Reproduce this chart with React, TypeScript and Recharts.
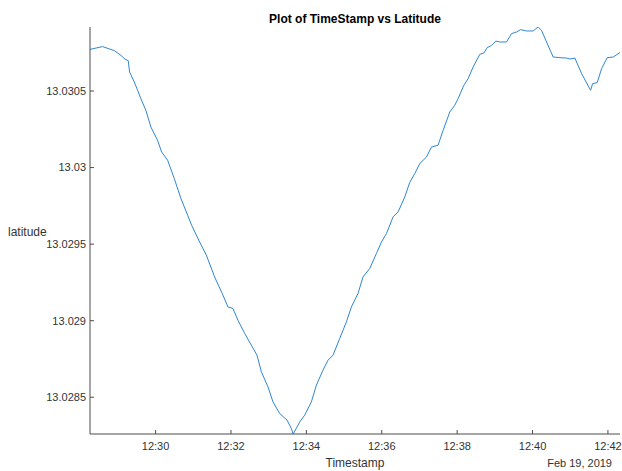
import React from "react";
import { Line, LineChart, XAxis, YAxis } from "recharts";

// minutes after 12:00 on Feb 19, 2019
const times = [
  28.26, 28.593, 28.904, 29.079, 29.185, 29.275, 29.31, 29.435, 29.522, 29.61,
  29.742, 29.875, 30.053, 30.159, 30.319, 30.496, 30.672, 30.85, 30.956, 31.168,
  31.346, 31.566, 31.787, 31.919, 32.052, 32.185, 32.363, 32.54, 32.689, 32.806,
  32.981, 33.114, 33.292, 33.486, 33.602, 33.65, 33.828, 33.955, 34.133, 34.266,
  34.441, 34.574, 34.707, 34.885, 35.062, 35.195, 35.37, 35.503, 35.681, 35.859,
  35.992, 36.125, 36.3, 36.433, 36.611, 36.743, 36.876, 37.008, 37.186, 37.319,
  37.494, 37.627, 37.805, 37.937, 38.025, 38.177, 38.291, 38.424, 38.602, 38.708,
  38.796, 38.912, 39.026, 39.132, 39.31, 39.443, 39.576, 39.682, 39.841, 40.016,
  40.149, 40.239, 40.372, 40.547, 40.725, 40.903, 40.99, 41.123, 41.301, 41.54,
  41.593, 41.715, 41.832, 41.981, 42.14, 42.318,
];

const latitudes = [
  13.030772, 13.03079, 13.030764, 13.030733, 13.030709, 13.030698, 13.030624, 13.030559, 13.030505, 13.03045,
  13.030374, 13.030265, 13.030178, 13.030102, 13.030048, 13.029928, 13.029798, 13.029689, 13.029623, 13.029514,
  13.029428, 13.029286, 13.029167, 13.02909, 13.02908, 13.029003, 13.028917, 13.02884, 13.028775, 13.028666,
  13.028568, 13.02847, 13.028394, 13.028351, 13.028296, 13.02826, 13.02834, 13.028383, 13.02847, 13.028579,
  13.028677, 13.028742, 13.028775, 13.028884, 13.028992, 13.02909, 13.029178, 13.029286, 13.029341, 13.029439,
  13.029514, 13.029569, 13.029678, 13.02971, 13.029808, 13.029904, 13.029961, 13.030026, 13.030069, 13.030134,
  13.030146, 13.030243, 13.030363, 13.030407, 13.03045, 13.030537, 13.030581, 13.030657, 13.03074, 13.030748,
  13.030783, 13.030798, 13.030826, 13.03082, 13.03082, 13.030875, 13.030885, 13.030901, 13.030892, 13.030892,
  13.030918, 13.030896, 13.03082, 13.030722, 13.030718, 13.030715, 13.030709, 13.030715, 13.030614, 13.030505,
  13.030548, 13.030555, 13.030646, 13.030718, 13.030722, 13.030751,
];

const timeTicks = [30, 32, 34, 36, 38, 40, 42];
const latTicks = [13.0285, 13.029, 13.0295, 13.03, 13.0305];

const data = times.map((t, i) => ({ t, lat: latitudes[i] }));

const font = "'Liberation Sans', Arial, Helvetica, sans-serif";
const textColor = "#333";
const axisColor = "#4d4d4d";
const tickStyle = { fontSize: 11, fill: textColor, fontFamily: font };

export default function App() {
  return (
    <div
      style={{
        position: "absolute",
        left: 0,
        top: 0,
        width: 622,
        height: 471,
        background: "#fff",
        fontFamily: font,
        color: textColor,
      }}
    >
      <div
        style={{
          position: "absolute",
          left: 90,
          width: 530,
          top: 10,
          height: 18,
          lineHeight: "18px",
          textAlign: "center",
          fontSize: 12,
          fontWeight: "bold",
          color: "#000",
        }}
      >
        Plot of TimeStamp vs Latitude
      </div>
      <LineChart
        width={622}
        height={471}
        data={data}
        margin={{ top: 27, right: 2, bottom: 0, left: 0 }}
      >
        <XAxis
          dataKey="t"
          type="number"
          domain={[28.26, 42.32]}
          ticks={timeTicks}
          allowDataOverflow
          height={37}
          tickFormatter={(m: number) => `12:${m}`}
          tick={tickStyle}
          tickSize={-4}
          tickMargin={12}
          stroke={axisColor}
        />
        <YAxis
          dataKey="lat"
          type="number"
          domain={[13.02826, 13.030918]}
          ticks={latTicks}
          allowDataOverflow
          width={90}
          tickFormatter={(v: number) => String(Number(v.toFixed(4)))}
          tick={tickStyle}
          tickSize={-4}
          tickMargin={8}
          stroke={axisColor}
        />
        <Line
          type="linear"
          dataKey="lat"
          stroke="#2f86d2"
          strokeWidth={1}
          dot={false}
          isAnimationActive={false}
        />
      </LineChart>
      <div
        style={{
          position: "absolute",
          left: 8,
          top: 224,
          fontSize: 12,
          lineHeight: "16px",
        }}
      >
        latitude
      </div>
      <div
        style={{
          position: "absolute",
          left: 90,
          width: 530,
          top: 455,
          fontSize: 12,
          lineHeight: "16px",
          textAlign: "center",
        }}
      >
        Timestamp
      </div>
      <div
        style={{
          position: "absolute",
          right: 10,
          top: 455,
          fontSize: 11,
          lineHeight: "16px",
        }}
      >
        Feb 19, 2019
      </div>
    </div>
  );
}
